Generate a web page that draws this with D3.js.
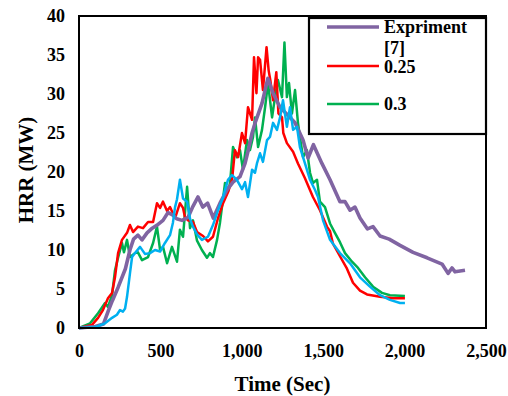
<!DOCTYPE html>
<html>
<head>
<meta charset="utf-8">
<script src="https://cdn.jsdelivr.net/npm/d3@7"></script>
<style>
  html, body { margin: 0; padding: 0; background: #fff; }
</style>
</head>
<body>
<svg id="chart" width="508" height="396"></svg>
<script>
// ---- data ----
const xTicks = [0, 500, 1000, 1500, 2000, 2500];
const yTicks = [0, 5, 10, 15, 20, 25, 30, 35, 40];
const legendLabels = ["Expriment", "[7]", "0.25", "0.3"];
const xTitle = "Time (Sec)";
const yTitle = "HRR (MW)";

// Expriment [7]  [time (s), HRR (MW)]
const expData = [[0,0],[100,0.2],[150,0.5],[180,2.2],[205,3.5],[240,5.2],[285,7.6],[313,10],[335,11.4],[362,11.9],[387,11.3],[418,12.2],[450,12.8],[480,13.2],[516,13.8],[547,14.8],[575,14.5],[600,14.0],[633,13.8],[670,14.2],[700,15.6],[731,16.8],[760,15.5],[790,16.0],[825,14.1],[866,16],[909,17.7],[946,18.7],[989,19.4],[1020,21.1],[1040,22.8],[1063,25],[1085,26.5],[1124,28.8],[1160,32],[1192,30.1],[1235,28.3],[1277,27.4],[1327,26.3],[1376,24.1],[1407,21.8],[1440,23.5],[1492,21.1],[1542,19],[1603,16.2],[1634,16.2],[1665,15.1],[1695,15.5],[1726,14.1],[1772,12.7],[1806,13],[1849,11.8],[1905,11.4],[1972,10.6],[2052,9.7],[2138,9],[2230,8.2],[2267,7],[2291,7.7],[2310,7.2],[2371,7.4]];

// 0.25
const redData = [[0,0],[80,0.4],[117,1.3],[147,2.3],[178,3.8],[203,4.5],[221,6.5],[240,9.6],[264,11.3],[295,12.2],[313,13.2],[332,12.3],[362,13],[393,12.8],[424,13.6],[455,13.6],[479,16],[498,15.4],[516,16.2],[541,15],[559,15.5],[590,14.1],[620,16],[639,15.4],[651,14.2],[670,13.8],[700,13.6],[725,12.3],[762,11.8],[792,11.1],[823,11.7],[854,14.1],[885,16],[915,17.4],[940,19],[958,22.8],[977,21.9],[1001,25],[1020,23.7],[1038,28.3],[1063,26.7],[1075,34.7],[1090,30.1],[1100,34.7],[1112,34.4],[1130,30.5],[1152,36],[1165,33],[1175,31.8],[1192,29.2],[1212,32.8],[1225,27.5],[1247,27],[1255,25],[1277,23.7],[1315,22.6],[1345,21.1],[1388,19.2],[1437,16.8],[1480,15.1],[1523,13],[1542,12.4],[1560,10.8],[1603,9.2],[1646,7.6],[1683,5.8],[1726,4.8],[1769,4.3],[1849,4],[1929,3.8],[2002,3.8]];

// 0.3
const greenData = [[0,0],[68,0.6],[117,1.9],[160,3.2],[178,2.7],[203,4.2],[221,7.4],[240,9],[264,10.9],[276,9.7],[295,11.3],[313,9.1],[344,9.6],[362,9.7],[387,8.7],[424,9.1],[455,10.9],[479,13],[498,10],[516,10.4],[541,8.3],[571,10.4],[602,8.5],[620,12.6],[639,11.7],[664,18.1],[682,12.8],[700,13.8],[725,11.2],[755,10],[786,9],[804,9.6],[823,9.1],[848,11.3],[866,13.5],[897,18.6],[915,17.5],[928,18.6],[946,23.2],[970,21.9],[989,22.8],[1007,20.3],[1032,24.1],[1050,22.8],[1069,24.5],[1081,27],[1100,23.2],[1124,25.4],[1143,28.3],[1161,31.4],[1186,27],[1204,29.6],[1222,31.8],[1247,29.6],[1262,36.6],[1277,29.6],[1290,31.4],[1308,27.5],[1327,30.5],[1345,26.3],[1357,24.5],[1376,21.9],[1400,22.8],[1419,19.9],[1437,18.6],[1462,19],[1480,16.2],[1511,15.5],[1542,13.4],[1572,12.2],[1603,11],[1634,9.6],[1677,8.5],[1714,7.7],[1757,6.5],[1806,5.3],[1861,4.5],[1910,4.2],[2002,4.1]];

// unlabeled (blue)
const blueData = [[0,0],[98,0.1],[160,0.6],[203,1.3],[233,1.7],[252,2.3],[270,2.1],[283,2.5],[295,4],[313,7],[326,9.1],[344,9.6],[375,10.4],[405,9.5],[436,9.6],[467,10],[498,9.8],[528,10.9],[559,11.9],[577,13.5],[590,15.5],[602,16.5],[620,19],[639,16.6],[664,16.2],[682,14],[700,13],[725,12],[755,11.3],[792,11.7],[823,13.2],[854,15.1],[885,16.8],[915,19],[940,19.6],[970,19],[1001,17.8],[1020,18.7],[1038,16.8],[1063,20.3],[1081,19.9],[1093,21.1],[1112,22.4],[1130,21.3],[1155,24.1],[1173,24.5],[1192,26.3],[1216,25.4],[1235,27],[1253,29.2],[1277,25.8],[1296,28.3],[1315,25.4],[1339,25.8],[1357,23.2],[1388,21.1],[1419,19],[1450,17.7],[1468,16.8],[1499,13.8],[1542,11.3],[1603,9.6],[1665,8.3],[1726,6.5],[1787,5.3],[1849,4.2],[1910,3.6],[1972,3.2],[2002,3.2]];

// ---- chart ----
const FONT = "'Liberation Serif', 'Times New Roman', 'DejaVu Serif', serif";
const svg = d3.select("#chart");
const m = {left: 79, top: 16, right: 486, bottom: 328};

const x = d3.scaleLinear().domain([0, 2500]).range([m.left, m.right]);
const y = d3.scaleLinear().domain([0, 40]).range([m.bottom, m.top]);

const series = [
  {data: expData,   color: "#8064A2", width: 3.6},
  {data: blueData,  color: "#00B0F0", width: 2.5},
  {data: greenData, color: "#00B050", width: 2.5},
  {data: redData,   color: "#FF0000", width: 2.5}
];

const line = d3.line().x(d => x(d[0])).y(d => y(d[1]));

const order = [2, 3, 0, 1];
order.forEach(i => {
  const s = series[i];
  svg.append("path")
    .datum(s.data)
    .attr("fill", "none")
    .attr("stroke", s.color)
    .attr("stroke-width", s.width)
    .attr("stroke-linejoin", "round")
    .attr("d", line);
});

function styleText(sel, size) {
  sel.attr("font-family", null)
     .style("font-family", FONT)
     .style("font-weight", "bold")
     .style("font-size", size + "px")
     .style("fill", "#000");
}

// axes
const xAxis = d3.axisBottom(x).tickValues(xTicks).tickSize(0).tickPadding(16).tickFormat(d3.format(","));
const gx = svg.append("g").attr("transform", `translate(0,${m.bottom})`).call(xAxis);
gx.attr("font-family", null).attr("font-size", null);
gx.select(".domain").remove();
styleText(gx.selectAll("text"), 18);

const yAxis = d3.axisLeft(y).tickValues(yTicks).tickSize(0).tickPadding(14);
const gy = svg.append("g").attr("transform", `translate(${m.left},0)`).call(yAxis);
gy.attr("font-family", null).attr("font-size", null);
gy.select(".domain").remove();
styleText(gy.selectAll("text"), 18);

// plot border
svg.append("rect")
  .attr("x", m.left).attr("y", m.top)
  .attr("width", m.right - m.left).attr("height", m.bottom - m.top)
  .attr("fill", "none").attr("stroke", "#000").attr("stroke-width", 2);

// axis titles
styleText(svg.append("text").attr("x", (m.left + m.right) / 2).attr("y", 391)
  .attr("text-anchor", "middle").text(xTitle), 21);
styleText(svg.append("text").attr("transform", `translate(33,170) rotate(-90)`)
  .attr("text-anchor", "middle").text(yTitle), 21);

// legend
const lg = svg.append("g");
lg.append("rect").attr("x", 309).attr("y", 18).attr("width", 177).attr("height", 116)
  .attr("fill", "#fff").attr("stroke", "#000").attr("stroke-width", 2.2);
const legendItems = [
  {color: "#8064A2", width: 3.6, ly: 27, texts: [[legendLabels[0], 33], [legendLabels[1], 54]]},
  {color: "#FF0000", width: 2.5, ly: 66, texts: [[legendLabels[2], 73]]},
  {color: "#00B050", width: 2.5, ly: 104, texts: [[legendLabels[3], 110]]}
];
legendItems.forEach(it => {
  lg.append("line").attr("x1", 327).attr("x2", 379).attr("y1", it.ly).attr("y2", it.ly)
    .attr("stroke", it.color).attr("stroke-width", it.width);
  it.texts.forEach(t => {
    styleText(lg.append("text").attr("x", 384).attr("y", t[1]).text(t[0]), 18);
  });
});
</script>
</body>
</html>
